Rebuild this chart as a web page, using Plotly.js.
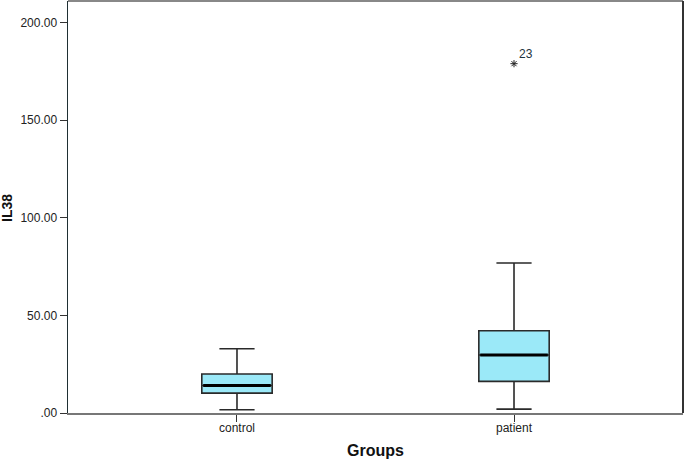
<!DOCTYPE html>
<html><head><meta charset="utf-8">
<script src="https://cdn.plot.ly/plotly-3.0.1.min.js"></script>
<style>html,body{margin:0;padding:0;background:#fff;}#chart{width:685px;height:459px;}</style>
</head><body><div id="chart"></div>
<script>
const categories = ['control', 'patient'];
const lowerWhisker = [1.7, 2.0];
const q1Values = [10.2, 16.2];
const medianValues = [14.1, 29.7];
const q3Values = [20.0, 42.1];
const upperWhisker = [32.9, 76.8];
const outlierGroup = [1];
const outlierValues = [178.9];
const outlierLabels = ['23'];
const yTickVals = [0, 50, 100, 150, 200];
const yTickText = ['.00', '50.00', '100.00', '150.00', '200.00'];

const xPos = categories.map((c, i) => i);
const boxHalf = 0.127;
const font = 'Liberation Sans, Arial, sans-serif';

const traces = [{
  type: 'box',
  x: xPos,
  q1: q1Values, median: medianValues, q3: q3Values,
  lowerfence: lowerWhisker, upperfence: upperWhisker,
  width: boxHalf * 2,
  whiskerwidth: 0.5,
  fillcolor: '#9BE9F8',
  line: {color: '#2a2a2a', width: 1.6},
  boxpoints: false,
  hoverinfo: 'skip',
  showlegend: false
}];
xPos.forEach((x, i) => {
  traces.push({
    type: 'scatter', mode: 'lines',
    x: [x - boxHalf + 0.005, x + boxHalf - 0.005], y: [medianValues[i], medianValues[i]],
    line: {color: '#000', width: 3}, hoverinfo: 'skip', showlegend: false
  });
});
traces.push({
  type: 'scatter', mode: 'markers',
  x: outlierGroup, y: outlierValues,
  marker: {symbol: 'asterisk-open', size: 6, color: '#222', line: {color: '#222', width: 1}},
  hoverinfo: 'skip', showlegend: false
});

const annotations = outlierGroup.map((g, i) => ({
  x: g, y: outlierValues[i], text: outlierLabels[i], showarrow: false,
  xanchor: 'left', yanchor: 'bottom', xshift: 3, yshift: 1,
  font: {family: font, size: 12, color: '#1d3340'}
}));
annotations.push({
  xref: 'paper', yref: 'paper', x: -0.098, y: 0.497, text: '<b>IL38</b>', textangle: -90,
  showarrow: false, xanchor: 'center', yanchor: 'middle',
  font: {family: font, size: 14, color: '#111'}
});

const layout = {
  width: 685, height: 459,
  margin: {l: 68, r: 2, t: 1, b: 46},
  paper_bgcolor: '#fff', plot_bgcolor: '#fff',
  font: {family: font, color: '#222'},
  xaxis: {
    range: [-0.61, 1.61], tickvals: xPos, ticktext: categories,
    ticks: 'outside', ticklen: 7, tickcolor: '#333', tickwidth: 1,
    ticklabelstandoff: -4,
    showgrid: false, zeroline: false,
    showline: true, linecolor: '#777', linewidth: 1.5,
    tickfont: {family: font, size: 12, color: '#222'},
    title: {text: '<b>Groups</b>', font: {family: font, size: 16, color: '#111'}, standoff: 18}
  },
  yaxis: {
    range: [0, 211], tickvals: yTickVals, ticktext: yTickText,
    ticks: 'outside', ticklen: 7, tickcolor: '#333', tickwidth: 1,
    showgrid: false, zeroline: false,
    showline: true, linecolor: '#1f2f33', linewidth: 1.5,
    tickfont: {family: font, size: 12, color: '#222'}
  },
  shapes: [
    {type: 'line', xref: 'paper', yref: 'paper', x0: 0, x1: 1, y0: 1, y1: 1, line: {color: '#888', width: 2}},
    {type: 'line', xref: 'paper', yref: 'paper', x0: 1, x1: 1, y0: 0, y1: 1, line: {color: '#333', width: 2}}
  ],
  annotations: annotations
};
Plotly.newPlot('chart', traces, layout, {displayModeBar: false, staticPlot: true});
</script></body></html>
